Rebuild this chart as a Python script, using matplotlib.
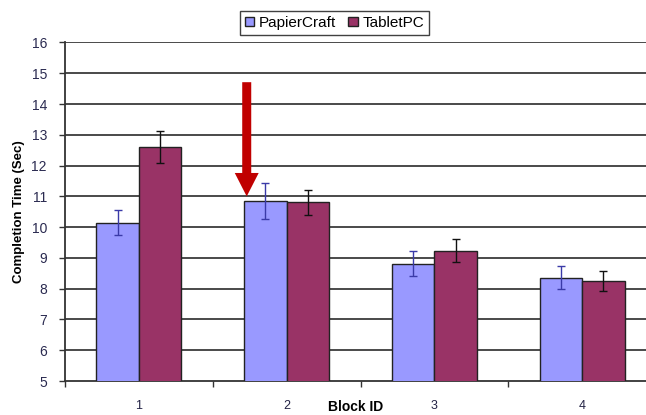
import numpy as np
import matplotlib.pyplot as plt
from matplotlib.patches import FancyArrow

plt.rcParams['font.family'] = ['Liberation Sans', 'DejaVu Sans']

# Mean completion time per block, with error bar half-lengths
blocks = ["1", "2", "3", "4"]
papiercraft = [10.15, 10.86, 8.81, 8.36]
papiercraft_err = [0.40, 0.58, 0.41, 0.37]
tabletpc = [12.60, 10.81, 9.24, 8.25]
tabletpc_err = [0.53, 0.40, 0.36, 0.32]
y_ticks = list(range(5, 17))

fig = plt.figure(figsize=(6.46, 4.15), dpi=100)
ax = fig.add_axes([0.1006, 0.0819, 0.9149, 0.8157])

x = np.arange(len(blocks))
w = 0.288

ax.bar(x - w / 2, papiercraft, w, color="#9999FF", edgecolor="#222222",
       linewidth=1, label="PapierCraft", zorder=3)
ax.bar(x + w / 2, tabletpc, w, color="#993366", edgecolor="#222222",
       linewidth=1, label="TabletPC", zorder=3)
ax.errorbar(x - w / 2, papiercraft, yerr=papiercraft_err, fmt="none",
            ecolor="#3a3aa8", elinewidth=1, capsize=3, capthick=1, zorder=4)
ax.errorbar(x + w / 2, tabletpc, yerr=tabletpc_err, fmt="none",
            ecolor="#111111", elinewidth=1, capsize=3, capthick=1, zorder=4)

ax.set_xlim(-0.5, len(blocks) - 0.5)
ax.set_ylim(5, 16)

# horizontal gridlines
for v in y_ticks[1:]:
    ax.axhline(v, color="#3c3c3c", linewidth=1.3, zorder=1)

ax.set_yticks(y_ticks)
ax.set_yticklabels([str(v) for v in y_ticks], fontsize=10, color="#2a2a50")
ax.tick_params(axis="y", direction="out", length=4, width=1, color="#333333", pad=9)

# category boundaries get tick marks, labels sit at the centres
ax.set_xticks(np.arange(-0.5, len(blocks) + 0.5, 1.0))
ax.set_xticklabels([])
ax.set_xticks(x, minor=True)
ax.set_xticklabels(blocks, minor=True, fontsize=9, color="#222244")
ax.tick_params(axis="x", which="major", direction="out", length=4, width=1, color="#333333")
ax.tick_params(axis="x", which="minor", length=0, pad=14)

for side in ["top", "right"]:
    ax.spines[side].set_visible(False)
for side in ["left", "bottom"]:
    ax.spines[side].set_color("#333333")
    ax.spines[side].set_linewidth(1.3)

ax.yaxis.set_label_coords(-0.068, 0.5)
ax.set_ylabel("Completion Time (Sec)", fontsize=9.5, fontweight="bold")
fig.text(0.551, 0.019, "Block ID", fontsize=10, fontweight="bold", ha="center", va="center")

# red arrow pointing at block 2
ax.add_patch(FancyArrow(0.73, 14.71, 0, -3.71, width=0.061, head_width=0.162,
                        head_length=0.76, length_includes_head=True,
                        color="#C00000", zorder=5, linewidth=0))

leg = fig.legend(loc="center", bbox_to_anchor=(0.518, 0.9446), ncol=2, fontsize=11,
                 frameon=True, fancybox=False, edgecolor="#111111",
                 handlelength=0.6, handleheight=0.6, handletextpad=0.3,
                 columnspacing=0.8, borderpad=0.35, borderaxespad=0)
leg.get_frame().set_linewidth(1)

fig.savefig("out.png", dpi=100)
